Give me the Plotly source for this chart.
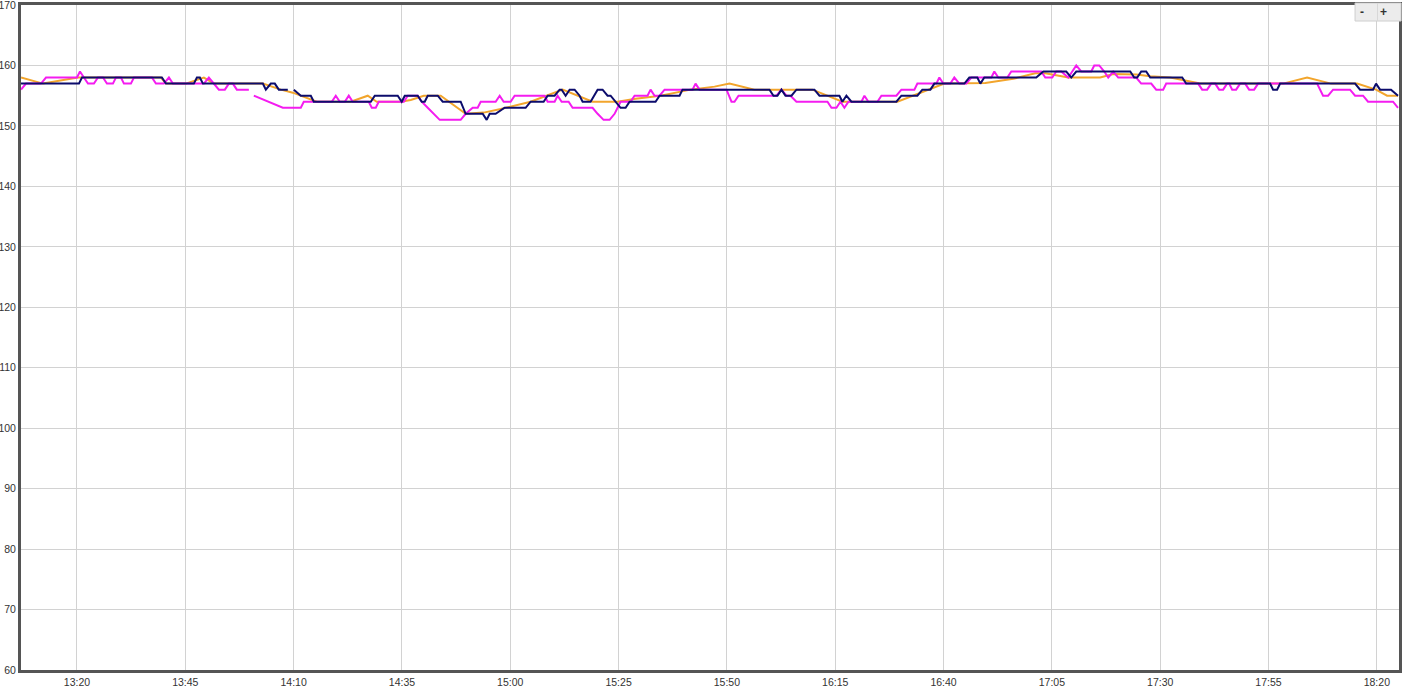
import plotly.graph_objects as go
import pandas as pd

BASE = pd.Timestamp("2024-01-01 13:00")

# times are minutes after 13:00
ORANGE_MIN = [7.09, 12.16, 20.23, 39.37, 40.53, 45.14, 49.29, 51.60, 62.90, 67.05, 69.82, 75.35,
              83.19, 87.11, 89.19, 94.72, 97.03, 100.03, 103.95, 109.71, 113.87, 117.79, 124.70,
              132.09, 139.00, 144.77, 148.92, 154.69, 161.61, 167.14, 170.60, 176.37, 189.74,
              196.66, 209.35, 220.19, 229.64, 236.10, 241.17, 243.48, 248.79, 256.16, 259.16,
              264.47, 267.70, 272.31, 279.23, 298.37, 303.91, 309.44, 315.44, 319.82, 322.36, 324.89]
ORANGE_VAL = [158, 157, 158, 158, 157, 157, 158, 157, 157, 156, 155.5, 154,
              154, 155, 154, 154, 154.3, 155, 155, 152, 152.2, 152.8, 154,
              156, 154, 154, 154.5, 155, 156, 156.5, 157, 156, 156,
              154, 154, 157, 157.1, 157.8, 158.7, 158.7, 158, 158, 158.6,
              158.5, 158.2, 158, 157, 157, 158, 157, 157, 156, 155, 155]

NAVY_MIN = [7.09, 20.46, 21.15, 39.60, 40.53, 46.98, 47.68, 48.37, 49.06, 62.90, 63.59, 64.74,
            65.66, 66.59, 68.66, 69.30, 70.05, 71.66, 73.97, 74.66, 87.81, 88.73, 94.03, 94.95,
            95.65, 98.64, 99.57, 100.26, 100.95, 103.26, 104.41, 108.56, 109.71, 113.64, 114.56,
            115.25, 116.63, 118.71, 123.55, 124.70, 127.70, 128.63, 130.24, 131.39, 131.86,
            132.78, 133.70, 134.85, 136.01, 136.70, 138.54, 140.16, 141.31, 142.46, 143.16,
            144.31, 145.46, 146.62, 147.54, 153.53, 154.46, 159.07, 159.76, 179.83, 180.75,
            181.67, 182.59, 183.52, 184.90, 186.05, 190.20, 191.36, 195.97, 196.66, 197.58,
            198.74, 209.11, 210.27, 213.96, 215.11, 216.96, 217.88, 224.80, 225.95, 227.80,
            228.49, 229.41, 241.40, 243.02, 248.32, 249.48, 250.63, 263.09, 264.01, 264.70,
            265.62, 266.77, 267.70, 275.08, 276.00, 295.37, 296.06, 296.98, 297.68, 314.98,
            316.13, 319.13, 319.82, 320.74, 323.28, 324.89]
NAVY_VAL = [157, 157, 158, 158, 157, 157, 158, 158, 157, 157, 156, 157,
            157, 156, 156, None, 156, 155, 155, 154, 154, 155, 155, 154,
            155, 155, 154, 154, 155, 155, 154, 154, 152, 152, 151,
            152, 152, 153, 153, 154, 154, 155, 155, 156, 156,
            155, 156, 156, 155, 154, 154, 156, 156, 155, 155,
            154, 153, 153, 154, 154, 155, 155, 156, 156, 155,
            155, 156, 155, 155, 156, 156, 155, 155, 154, 155,
            154, 154, 155, 155, 156, 156, 157, 157, 158, 158,
            157, 158, 158, 159, 159, 158, 159, 159, 158, 158,
            159, 159, 158, 158, 157, 157, 156, 156, 157, 157,
            156, 156, 157, 156, 156, 155]

MAGENTA_MIN = [7.09, 8.24, 11.70, 12.85, 20.00, 20.69, 21.61, 22.54, 23.92, 24.84, 26.00, 26.92,
               28.30, 28.99, 30.15, 30.84, 32.45, 33.15, 37.30, 38.22, 40.06, 41.22, 42.14, 49.29,
               50.44, 51.60, 52.75, 54.13, 55.06, 55.98, 56.90, 59.67, 60.20, 60.82, 67.51, 71.66,
               72.35, 78.81, 79.73, 80.66, 81.81, 82.73, 83.65, 87.34, 88.04, 88.96, 89.65, 95.42,
               96.34, 98.64, 99.57, 100.95, 102.34, 103.72, 108.56, 109.71, 111.33, 112.48, 113.18,
               116.63, 117.56, 118.48, 120.09, 121.01, 127.93, 128.63, 130.24, 130.93, 131.86,
               133.47, 134.39, 139.00, 140.16, 141.54, 142.93, 144.08, 144.77, 145.46, 147.77,
               148.69, 151.69, 152.38, 153.31, 154.46, 155.61, 162.07, 162.76, 163.68, 169.91,
               171.06, 171.75, 172.68, 181.44, 182.59, 183.75, 184.67, 186.05, 193.21, 194.13,
               195.28, 196.20, 197.12, 198.05, 201.05, 201.74, 202.66, 204.73, 205.66, 209.11,
               210.27, 213.27, 213.96, 218.34, 219.03, 219.95, 221.57, 222.49, 223.65, 225.26,
               226.41, 231.03, 231.72, 232.64, 234.72, 235.64, 242.56, 243.48, 245.09, 246.01,
               247.17, 248.79, 250.63, 251.78, 254.09, 254.78, 255.93, 257.09, 258.01, 259.16,
               260.32, 264.47, 265.62, 267.93, 269.08, 270.69, 271.39, 278.77, 279.69, 280.84,
               281.77, 282.69, 283.61, 284.53, 285.45, 285.92, 286.61, 287.53, 288.45, 289.61,
               290.53, 291.68, 292.60, 306.21, 307.59, 308.75, 309.90, 313.82, 314.98, 316.82,
               317.97, 323.74, 324.89]
MAGENTA_VAL = [156, 157, 157, 158, 158, 159, 158, 157, 157, 158, 158, 157,
               157, 158, 158, 157, 157, 158, 158, 157, 157, 158, 157, 157,
               158, 157, 156, 156, 157, 157, 156, 156, None, 155, 153, 153,
               154, 154, 155, 154, 154, 155, 154, 154, 153, 153, 154, 154,
               155, 155, 154, 153, 152, 151, 151, 152, 153, 153, 154,
               154, 155, 154, 154, 155, 155, 154, 154, 155, 154,
               154, 153, 153, 152, 151, 151, 152, 153, 154, 154,
               155, 155, 156, 155, 155, 156, 156, 157, 156, 156,
               154, 154, 155, 155, 156, 155, 155, 154, 154, 153,
               153, 154, 153, 154, 154, 155, 154, 154, 155, 155,
               156, 156, 157, 157, 158, 157, 157, 158, 157, 157,
               158, 158, 159, 158, 158, 159, 159, 158, 158, 159,
               159, 158, 160, 159, 159, 160, 160, 159, 158, 159,
               158, 158, 157, 157, 156, 156, 157, 157, 156, 156,
               157, 157, 156, 156, 157, 157, 156, 156, 157, 157,
               156, 156, 157, 157, 155, 155, 156, 156, 155, 155,
               154, 154, 153]

X_TICK_LABELS = ["13:20", "13:45", "14:10", "14:35", "15:00", "15:25", "15:50",
                 "16:15", "16:40", "17:05", "17:30", "17:55", "18:20"]
Y_TICKS = [60, 70, 80, 90, 100, 110, 120, 130, 140, 150, 160, 170]
X_RANGE = ["13:07:05", "18:25:07"]


def to_time(mins):
    return [BASE + pd.Timedelta(minutes=m) for m in mins]


def hhmm(s):
    return pd.Timestamp("2024-01-01 " + s)


fig = go.Figure()
fig.add_trace(go.Scatter(x=to_time(ORANGE_MIN), y=ORANGE_VAL, mode="lines",
                         line=dict(color="#f2a52c", width=2), hoverinfo="skip"))
fig.add_trace(go.Scatter(x=to_time(MAGENTA_MIN), y=MAGENTA_VAL, mode="lines",
                         line=dict(color="#f41cf0", width=2), hoverinfo="skip"))
fig.add_trace(go.Scatter(x=to_time(NAVY_MIN), y=NAVY_VAL, mode="lines",
                         line=dict(color="#0c0c6c", width=2), hoverinfo="skip"))

FRAME = "#555555"
GRID = "#d2d2d2"
FONT = dict(family="Liberation Sans, Arial, sans-serif", size=10.5, color="#333333")

fig.update_layout(
    width=1411, height=686,
    margin=dict(l=21, r=12, t=5, b=16),
    paper_bgcolor="white", plot_bgcolor="white",
    showlegend=False,
    font=FONT,
    xaxis=dict(
        type="date",
        range=[hhmm(X_RANGE[0]), hhmm(X_RANGE[1])],
        tickvals=[hhmm(t) for t in X_TICK_LABELS],
        ticktext=X_TICK_LABELS,
        showgrid=True, gridcolor=GRID, gridwidth=1,
        showline=True, linecolor=FRAME, linewidth=3, mirror=True,
        ticks="", zeroline=False, automargin=False,
        tickfont=FONT, ticklabeloverflow="allow",
    ),
    yaxis=dict(
        range=[59.999, 170.001],
        tickvals=Y_TICKS,
        ticktext=[str(v) for v in Y_TICKS],
        showgrid=True, gridcolor=GRID, gridwidth=1,
        showline=True, linecolor=FRAME, linewidth=3, mirror=True,
        ticks="", zeroline=False, automargin=False,
        tickfont=FONT, ticklabeloverflow="allow",
    ),
)

# zoom buttons in the top-right corner
fig.add_shape(type="rect", xref="paper", yref="paper", x0=0.9681, x1=1.0015, y0=0.9759, y1=1.003,
              fillcolor="#ececec", line=dict(color="#cfcfcf", width=1), layer="above")
fig.add_shape(type="line", xref="paper", yref="paper", x0=0.9844, x1=0.9844, y0=0.9759, y1=1.003,
              line=dict(color="#d8d8d8", width=1), layer="above")
fig.add_annotation(xref="paper", yref="paper", x=0.9762, y=0.9895, text="<b>-</b>", showarrow=False,
                   yanchor="middle", font=dict(family="Liberation Sans, Arial", size=12, color="#333333"))
fig.add_annotation(xref="paper", yref="paper", x=0.993, y=0.9895, text="<b>+</b>", showarrow=False,
                   yanchor="middle", font=dict(family="Liberation Sans, Arial", size=12, color="#333333"))

fig.write_html("out.html", config={"displayModeBar": False},
               post_script="document.body.style.margin='0';document.body.style.overflow='hidden';")
